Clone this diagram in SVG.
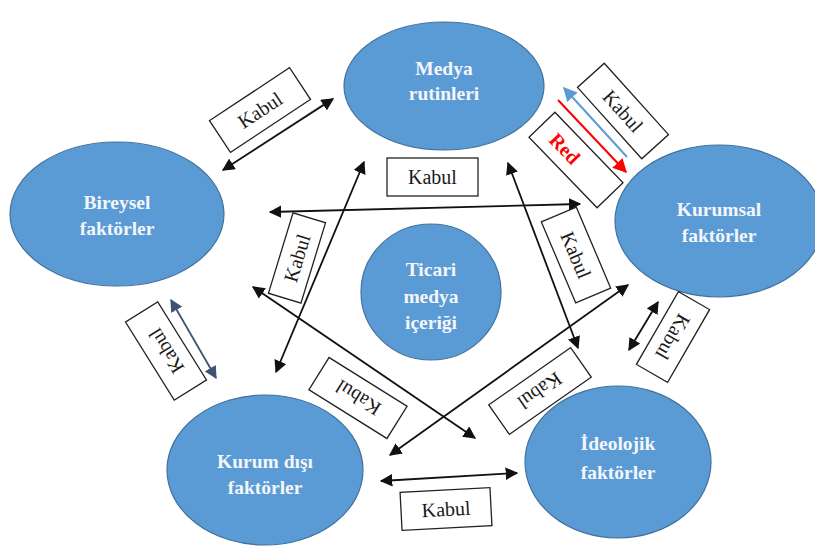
<svg xmlns="http://www.w3.org/2000/svg" width="815" height="553" viewBox="0 0 815 553">
  <style>
    .node { fill: #5b9bd5; stroke: #41719c; stroke-width: 1.2; }
    .ntext { font-family: "Liberation Serif", "DejaVu Serif", serif; font-weight: bold; font-size: 19.5px; fill: #f4f6fa; text-anchor: middle; }
    .box { fill: #ffffff; stroke: #222222; stroke-width: 1.3; }
    .lbl { font-family: "Liberation Serif", "DejaVu Serif", serif; font-size: 20px; fill: #1a1a1a; text-anchor: middle; dominant-baseline: central; }
    .red { fill: #ff0000; font-weight: bold; }
    .line { stroke: #111111; stroke-width: 1.8; fill: none; marker-start: url(#ah); marker-end: url(#ah); }
  </style>
  <defs>
    <marker id="ah" viewBox="0 0 10 10" refX="9" refY="5" markerWidth="7" markerHeight="7" orient="auto-start-reverse" markerUnits="strokeWidth">
      <path d="M0,0 L10,5 L0,10 Z" fill="#111111"/>
    </marker>
    <marker id="ahSlate" viewBox="0 0 10 10" refX="9" refY="5" markerWidth="7" markerHeight="7" orient="auto-start-reverse" markerUnits="strokeWidth">
      <path d="M0,0 L10,5 L0,10 Z" fill="#3e5571"/>
    </marker>
    <marker id="ahBlue" viewBox="0 0 10 10" refX="9" refY="5" markerWidth="7" markerHeight="7" orient="auto" markerUnits="strokeWidth">
      <path d="M0,0 L10,5 L0,10 Z" fill="#5b9bd5"/>
    </marker>
    <marker id="ahRed" viewBox="0 0 10 10" refX="9" refY="5" markerWidth="7" markerHeight="7" orient="auto" markerUnits="strokeWidth">
      <path d="M0,0 L10,5 L0,10 Z" fill="#ff0000"/>
    </marker>
  </defs>

  <rect width="815" height="553" fill="#ffffff"/>

  <!-- nodes -->
  <g id="medya-rutinleri">
    <ellipse class="node" cx="444" cy="86" rx="100" ry="64"/>
    <text class="ntext" x="444" y="75">Medya</text>
    <text class="ntext" x="444" y="100">rutinleri</text>
  </g>
  <g id="bireysel-faktorler">
    <ellipse class="node" cx="117" cy="214" rx="107" ry="72"/>
    <text class="ntext" x="117" y="209">Bireysel</text>
    <text class="ntext" x="117" y="235">faktörler</text>
  </g>
  <g id="kurumsal-faktorler">
    <ellipse class="node" cx="719" cy="221" rx="104" ry="76"/>
    <text class="ntext" x="719" y="216">Kurumsal</text>
    <text class="ntext" x="719" y="242">faktörler</text>
  </g>
  <g id="ticari-medya-icerigi">
    <ellipse class="node" cx="431" cy="292" rx="70" ry="68"/>
    <text class="ntext" x="431" y="276">Ticari</text>
    <text class="ntext" x="431" y="303">medya</text>
    <text class="ntext" x="431" y="329">içeriği</text>
  </g>
  <g id="kurum-disi-faktorler">
    <ellipse class="node" cx="265" cy="470" rx="98" ry="75"/>
    <text class="ntext" x="265" y="468">Kurum dışı</text>
    <text class="ntext" x="265" y="494">faktörler</text>
  </g>
  <g id="ideolojik-faktorler">
    <ellipse class="node" cx="618" cy="462" rx="93" ry="76"/>
    <text class="ntext" x="618" y="450">İdeolojik</text>
    <text class="ntext" x="618" y="479">faktörler</text>
  </g>

  <!-- connectors and their labels -->
  <g id="connectors">
    <!-- Bireysel <-> Medya -->
    <line x1="224" y1="172" x2="334" y2="100" stroke="#9a9a9a" stroke-width="1" transform="translate(-1.5,-2)"/>
    <line class="line" x1="223" y1="170" x2="333" y2="99"/>
    <g transform="translate(260,110) rotate(-33.5)">
      <rect class="box" x="-48" y="-19" width="96" height="38"/>
      <text class="lbl" x="0" y="0">Kabul</text>
    </g>

    <!-- Medya <-> Kurumsal -->
    <line x1="627" y1="157" x2="564" y2="88" stroke="#5b9bd5" stroke-width="2" marker-end="url(#ahBlue)"/>
    <line x1="558" y1="100" x2="626" y2="172" stroke="#ff0000" stroke-width="2" marker-end="url(#ahRed)"/>
    <g transform="translate(623,111) rotate(48)">
      <rect class="box" x="-48" y="-18" width="96" height="36"/>
      <text class="lbl" x="0" y="0">Kabul</text>
    </g>
    <g transform="translate(576,160) rotate(46)">
      <rect class="box" x="-49" y="-18" width="98" height="36"/>
      <text class="lbl red" x="-16" y="0">Red</text>
    </g>

    <!-- Bireysel <-> Kurumsal -->
    <line class="line" x1="270" y1="212" x2="580" y2="204"/>
    <g>
      <rect class="box" x="387" y="158" width="91" height="38"/>
      <text class="lbl" x="432.5" y="177">Kabul</text>
    </g>

    <!-- Medya <-> Kurum dışı -->
    <line class="line" x1="364" y1="162" x2="276" y2="372"/>
    <g transform="translate(297,258) rotate(-73)">
      <rect class="box" x="-42" y="-17" width="84" height="34"/>
      <text class="lbl" x="0" y="0">Kabul</text>
    </g>

    <!-- Medya <-> İdeolojik -->
    <line class="line" x1="508" y1="163" x2="578" y2="348"/>
    <g transform="translate(576,255) rotate(67)">
      <rect class="box" x="-44" y="-19" width="88" height="38"/>
      <text class="lbl" x="0" y="0">Kabul</text>
    </g>

    <!-- Kurumsal <-> Kurum dışı -->
    <line class="line" x1="628" y1="285" x2="390" y2="455"/>

    <!-- Bireysel <-> İdeolojik -->
    <line class="line" x1="253" y1="287" x2="475" y2="438"/>

    <!-- Kurumsal <-> İdeolojik -->
    <line class="line" x1="658" y1="302" x2="629" y2="350"/>
    <g transform="translate(673,337) rotate(120)">
      <rect class="box" x="-42" y="-18" width="84" height="36"/>
      <text class="lbl" x="0" y="0">Kabul</text>
    </g>

    <!-- Bireysel <-> Kurum dışı -->
    <line x1="171" y1="300" x2="216" y2="378" stroke="#3e5571" stroke-width="1.8" marker-start="url(#ahSlate)" marker-end="url(#ahSlate)"/>
    <g transform="translate(166,351) rotate(-122)">
      <rect class="box" x="-46" y="-19" width="92" height="38"/>
      <text class="lbl" x="0" y="0">Kabul</text>
    </g>

    <!-- Kurum dışı / Ticari label -->
    <g transform="translate(358,398) rotate(-148)">
      <rect class="box" x="-46" y="-19" width="92" height="38"/>
      <text class="lbl" x="0" y="0">Kabul</text>
    </g>

    <!-- İdeolojik / Ticari label -->
    <g transform="translate(540,391) rotate(145)">
      <rect class="box" x="-50" y="-18" width="100" height="36"/>
      <text class="lbl" x="0" y="0">Kabul</text>
    </g>

    <!-- Kurum dışı <-> İdeolojik -->
    <line class="line" x1="381" y1="481" x2="517" y2="473"/>
    <g transform="translate(446,509) rotate(-3)">
      <rect class="box" x="-45" y="-19" width="90" height="38"/>
      <text class="lbl" x="0" y="0">Kabul</text>
    </g>
  </g>
</svg>
